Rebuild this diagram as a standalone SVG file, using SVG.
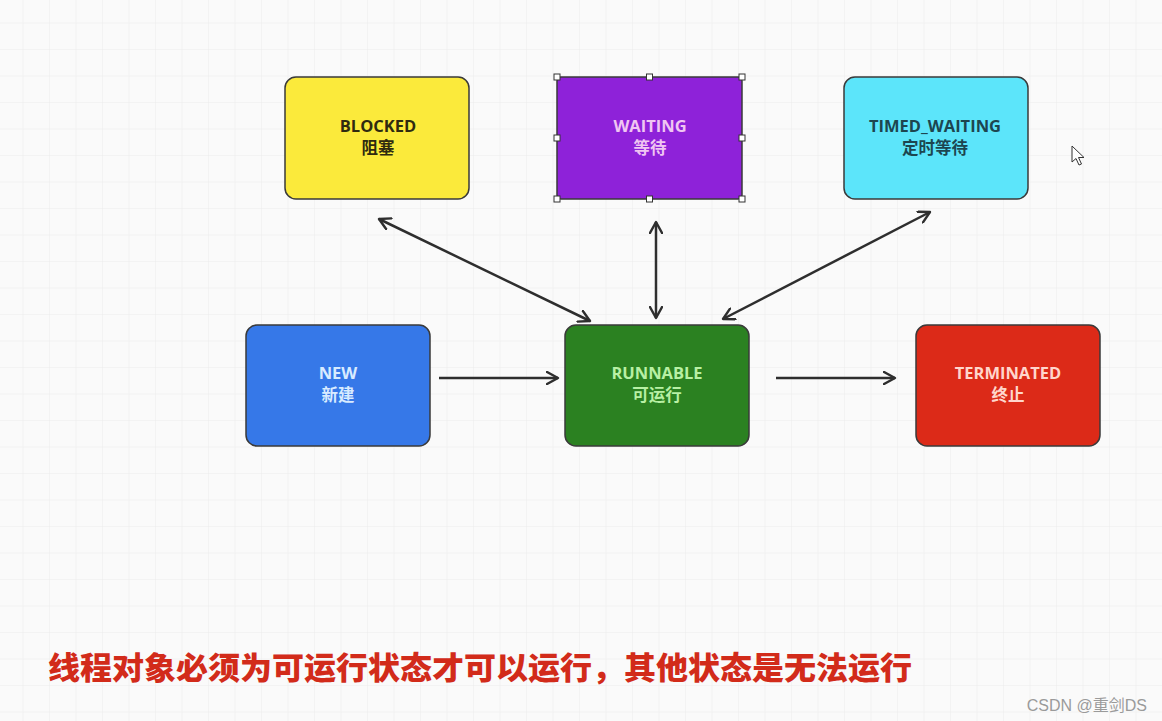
<svg xmlns="http://www.w3.org/2000/svg" width="1162" height="721" viewBox="0 0 1162 721">
<defs>
<pattern id="grid" width="26.5" height="26.5" patternUnits="userSpaceOnUse" x="-3" y="-3">
<path d="M26.5 0V26.5M0 26.5H26.5" fill="none" stroke="#ebebeb" stroke-width="1"/>
</pattern>
<marker id="ah" viewBox="0 0 14 14" refX="12" refY="7" markerWidth="14" markerHeight="14" markerUnits="userSpaceOnUse" orient="auto-start-reverse">
<path d="M1 1L12 7L1 13" fill="none" stroke="#2e2e2e" stroke-width="2.4" stroke-linecap="round" stroke-linejoin="round"/>
</marker>
<style>
.box{stroke:#3a3a3a;stroke-width:1.5}
.t{font-family:"Open Sans","Noto Sans CJK SC",sans-serif;font-weight:bold;font-size:16.5px;text-anchor:middle}
.c{stroke:#2e2e2e;stroke-width:2.5;fill:none;marker-start:url(#ah);marker-end:url(#ah)}
.c1{stroke:#2e2e2e;stroke-width:2.5;fill:none;marker-end:url(#ah)}
.h{fill:#fff;stroke:#333;stroke-width:1}
</style>
</defs>
<rect width="1162" height="721" fill="#fafafa"/>
<rect width="1162" height="721" fill="url(#grid)"/>

<g id="connectors">
<line class="c" x1="379" y1="219" x2="590" y2="321"/>
<line class="c" x1="656" y1="222" x2="656" y2="318"/>
<line class="c" x1="930" y1="212" x2="723" y2="319"/>
<line class="c1" x1="439" y1="378" x2="558" y2="378"/>
<line class="c1" x1="776" y1="378" x2="895" y2="378"/>
</g>

<g id="blocked">
<rect class="box" x="285" y="77" width="184" height="122" rx="11" fill="#fbea3b"/>
<text class="t" x="378" y="132" fill="#2f2a10">BLOCKED</text>
<text class="t" x="378" y="154" fill="#2f2a10">阻塞</text>
</g>

<g id="waiting">
<rect class="box" x="557" y="77" width="185" height="122" rx="4" fill="#8e22d9"/>
<text class="t" x="650" y="132" fill="#f0c6f2">WAITING</text>
<text class="t" x="650" y="154" fill="#f0c6f2">等待</text>
<rect class="h" x="554" y="74" width="6" height="6"/>
<rect class="h" x="646.5" y="74" width="6" height="6"/>
<rect class="h" x="739" y="74" width="6" height="6"/>
<rect class="h" x="554" y="135" width="6" height="6"/>
<rect class="h" x="739" y="135" width="6" height="6"/>
<rect class="h" x="554" y="196" width="6" height="6"/>
<rect class="h" x="646.5" y="196" width="6" height="6"/>
<rect class="h" x="739" y="196" width="6" height="6"/>
</g>

<g id="timed_waiting">
<rect class="box" x="844" y="77" width="184" height="122" rx="11" fill="#5ce5fa"/>
<text class="t" x="935" y="132" fill="#1d4650">TIMED_WAITING</text>
<text class="t" x="935" y="154" fill="#1d4650">定时等待</text>
</g>

<g id="new">
<rect class="box" x="246" y="325" width="184" height="121" rx="11" fill="#3678e8"/>
<text class="t" x="338" y="379" fill="#d8ebff">NEW</text>
<text class="t" x="338" y="401" fill="#d8ebff">新建</text>
</g>

<g id="runnable">
<rect class="box" x="565" y="325" width="184" height="121" rx="11" fill="#2b8121"/>
<text class="t" x="657" y="379" fill="#b8f0a4">RUNNABLE</text>
<text class="t" x="657" y="401" fill="#b8f0a4">可运行</text>
</g>

<g id="terminated">
<rect class="box" x="916" y="325" width="184" height="121" rx="11" fill="#dc2a18"/>
<text class="t" x="1008" y="379" fill="#ffd6cc">TERMINATED</text>
<text class="t" x="1008" y="401" fill="#ffd6cc">终止</text>
</g>

<path d="M1072 146L1072 162L1076 158.5L1079 165L1081.5 164L1078.5 157.5L1084 157.5Z" fill="#fff" stroke="#333" stroke-width="1"/>

<text x="48" y="679" font-family="'Noto Sans CJK SC',sans-serif" font-weight="900" font-size="31" fill="#d22b1a" textLength="864" lengthAdjust="spacingAndGlyphs">线程对象必须为可运行状态才可以运行，其他状态是无法运行</text>
<text x="1147" y="711" font-family="'Liberation Sans','Noto Sans CJK SC',sans-serif" font-size="16" fill="#9a9a9a" text-anchor="end">CSDN @重剑DS</text>
</svg>
